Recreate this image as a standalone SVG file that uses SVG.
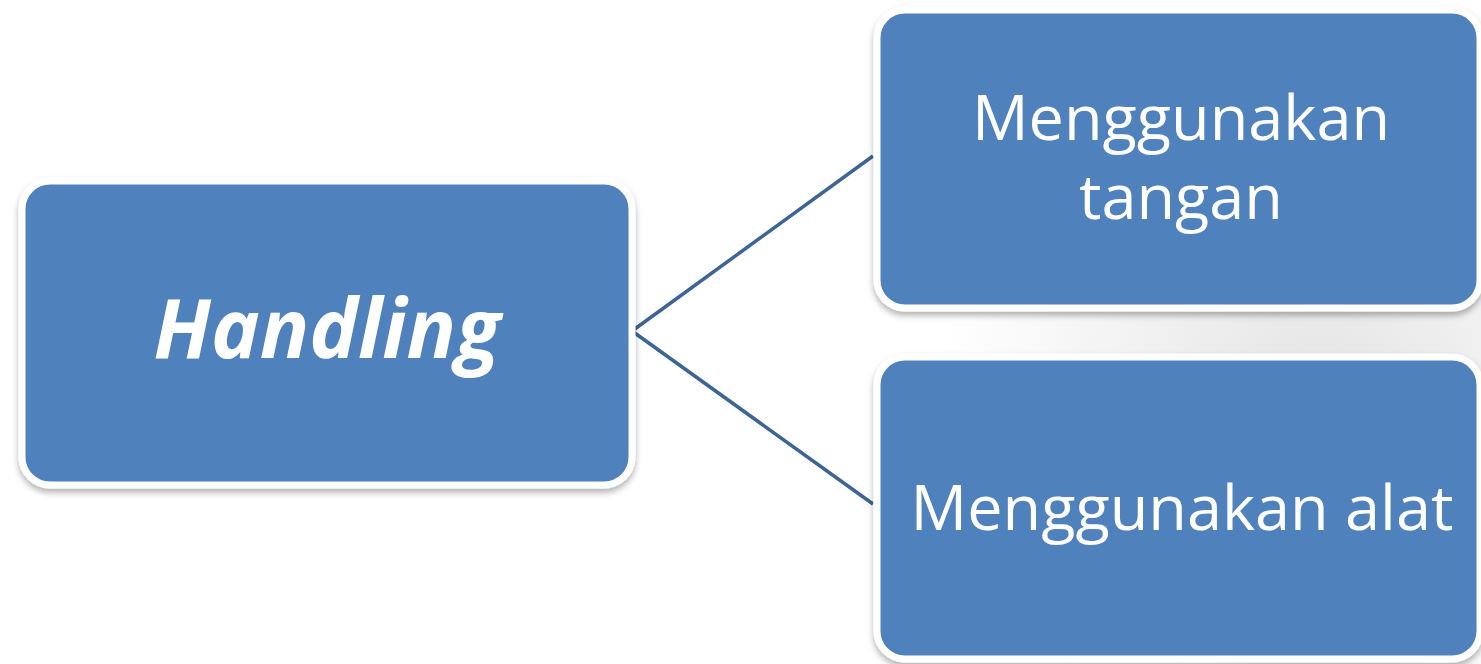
<svg xmlns="http://www.w3.org/2000/svg" width="1481" height="664" viewBox="0 0 1481 664">
<defs>
<style>
.box{fill:#4f81bd;stroke:#ffffff;stroke-width:7;filter:url(#sh);}
.lbl{font-family:"Open Sans","Liberation Sans",sans-serif;fill:#ffffff;text-anchor:middle;}
.conn{stroke:#3c6494;stroke-width:3.5;fill:none;}
</style>
<filter id="sh" x="-10%" y="-10%" width="120%" height="130%">
<feDropShadow dx="0" dy="4" stdDeviation="3" flood-color="#000" flood-opacity="0.3"/>
</filter>
<radialGradient id="bg" cx="1320" cy="400" r="380" gradientUnits="userSpaceOnUse">
<stop offset="0" stop-color="#e4e4e4"/>
<stop offset="1" stop-color="#ffffff"/>
</radialGradient>
</defs>
<rect x="0" y="0" width="1481" height="664" fill="#ffffff"/>
<rect x="900" y="0" width="581" height="664" fill="url(#bg)"/>
<g id="connectors">
<line class="conn" x1="632" y1="331" x2="873" y2="156"/>
<line class="conn" x1="632" y1="331" x2="873" y2="504"/>
</g>
<g id="node-handling">
<rect class="box" x="22" y="181" width="610" height="304" rx="28"/>
<text class="lbl" x="327" y="358" font-size="82" font-weight="bold" font-style="italic">Handling</text>
</g>
<g id="node-tangan">
<rect class="box" x="877" y="10" width="603" height="298" rx="28"/>
<text class="lbl" x="1181" y="140" font-size="63">Menggunakan</text>
<text class="lbl" x="1181" y="219" font-size="63">tangan</text>
</g>
<g id="node-alat">
<rect class="box" x="877" y="357" width="603" height="302" rx="28"/>
<text class="lbl" x="1182" y="530" font-size="63">Menggunakan alat</text>
</g>
</svg>
